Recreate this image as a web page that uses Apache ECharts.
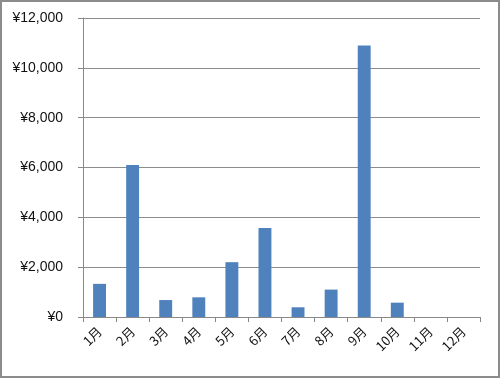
<!DOCTYPE html>
<html><head><meta charset="utf-8">
<script src="https://cdn.jsdelivr.net/npm/echarts@6/dist/echarts.min.js"></script>
<style>
html,body{margin:0;padding:0;background:#fff;}
#wrap{width:500px;height:378px;box-sizing:border-box;border:2px solid #8c8c8c;position:relative;}
#c{position:absolute;left:-2px;top:-2px;width:500px;height:378px;}
</style></head>
<body><div id="wrap"><div id="c"></div></div>
<script>
var categories = ['1月','2月','3月','4月','5月','6月','7月','8月','9月','10月','11月','12月'];
var values = [1330, 6100, 680, 790, 2200, 3570, 390, 1100, 10900, 575, 0, 0];
var yTicks = [0, 2000, 4000, 6000, 8000, 10000, 12000];

var chart = echarts.init(document.getElementById('c'), null, {renderer:'canvas'});
chart.setOption({
  animation:false,
  backgroundColor:'transparent',
  grid:{left:83, right:20, top:18, bottom:61, containLabel:false},
  xAxis:{
    type:'category', data:categories,
    axisLine:{lineStyle:{color:'#888', width:1}},
    axisTick:{show:true, alignWithLabel:false, length:5, lineStyle:{color:'#888'}},
    axisLabel:{rotate:45, color:'#111', fontSize:13, fontFamily:'"Noto Sans CJK JP", "DejaVu Sans", sans-serif', margin:12, interval:0}
  },
  yAxis:{
    type:'value', min:yTicks[0], max:yTicks[yTicks.length-1], interval:2000,
    axisLine:{show:true, lineStyle:{color:'#888', width:1}},
    axisTick:{show:true, length:5, lineStyle:{color:'#888'}},
    splitLine:{lineStyle:{color:'#8c8c8c', width:1}},
    axisLabel:{color:'#111', fontSize:14, fontFamily:'"Liberation Sans", Arial, sans-serif', margin:20,
      formatter:function(v){return '¥' + v.toLocaleString('en-US');}}
  },
  series:[{type:'bar', data:values, barWidth:'39%', itemStyle:{color:'#4F81BD'}}]
});
</script></body></html>
